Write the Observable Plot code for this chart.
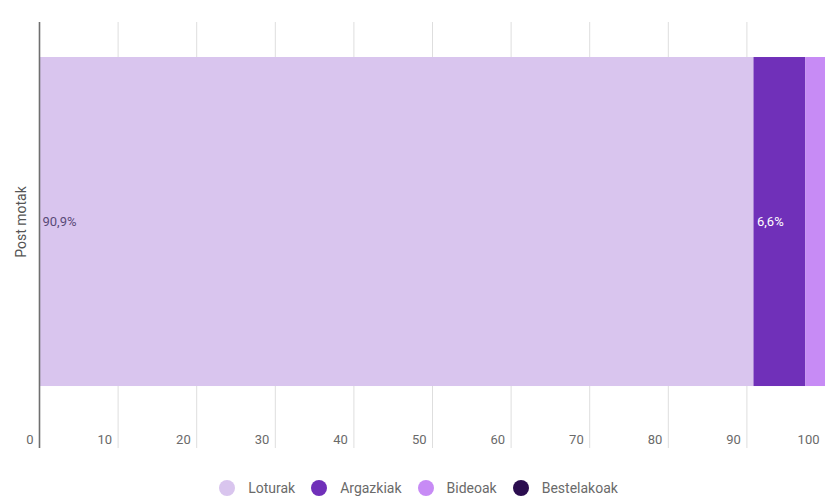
<!DOCTYPE html>
<html>
<head>
<meta charset="utf-8">
<script src="https://cdn.jsdelivr.net/npm/d3@7"></script>
<script src="https://cdn.jsdelivr.net/npm/@observablehq/plot@0.6"></script>
<style>
  html, body { margin: 0; padding: 0; background: #fff; }
  #chart { width: 829px; height: 470px; }
  .legend {
    display: flex; justify-content: center; align-items: center;
    height: 30px; padding-top: 5px; box-sizing: border-box;
    font-family: Roboto, sans-serif; font-size: 14px; color: #6a6a6a;
    padding-left: 8px;
  }
  .legend .item { display: flex; align-items: center; margin: 0 8px; }
  .legend .dot { width: 16px; height: 16px; border-radius: 50%; margin-right: 13px; }
</style>
</head>
<body>
<div id="chart"></div>
<script>
// Post types and their share of all posts (%)
const category = "Post motak";
const types = ["Loturak", "Argazkiak", "Bideoak", "Bestelakoak"];
const shares = [90.9, 6.6, 2.5, 0];
const colors = ["#d9c5ee", "#7030b9", "#c78bf5", "#2b0d4f"];
const labelColors = ["#5a4a78", "#ffffff", "#ffffff", "#ffffff"];

// x axis ticks
const tickValues = [0, 10, 20, 30, 40, 50, 60, 70, 80, 90, 100];
const tickLabels = ["0", "10", "20", "30", "40", "50", "60", "70", "80", "90", "100"];
const gridValues = [10, 20, 30, 40, 50, 60, 70, 80, 90];

const rows = types.map((t, i) => ({ kind: category, type: t, value: shares[i], labelColor: labelColors[i] }));
const fmt = v => v.toFixed(1).replace(".", ",") + "%";

const chart = Plot.plot({
  width: 829,
  height: 470,
  marginLeft: 39,
  marginRight: 4,
  marginTop: 22,
  marginBottom: 22,
  style: { fontFamily: "Roboto, sans-serif", background: "#fff" },
  x: { domain: [0, 100], axis: null },
  y: { domain: [category], axis: null, paddingInner: 0, paddingOuter: 0.1474, align: 0.361, round: false },
  color: { domain: types, range: colors },
  marks: [
    Plot.ruleX(gridValues, { stroke: "#dedede", strokeWidth: 1 }),
    Plot.barX(rows, Plot.stackX({ x: "value", y: "kind", fill: "type", order: types })),
    Plot.text(rows.filter(d => d.value >= 5), Plot.stackX1({
      x: "value", y: "kind", z: "type", order: types,
      text: d => fmt(d.value), fill: "labelColor",
      textAnchor: "start", dx: 3, fontSize: 13
    })),
    Plot.ruleX([0], { stroke: "#6f6f6f", strokeWidth: 1.6 }),
    Plot.text(tickValues, {
      x: d => d, text: (d, i) => tickLabels[i], frameAnchor: "bottom",
      textAnchor: "end", dx: -6, dy: -5, fontSize: 13, fill: "#6a6a6a"
    }),
    Plot.text([category], {
      y: d => d, text: d => d, frameAnchor: "left", textAnchor: "middle", rotate: -90,
      dx: -18, fontSize: 14, fill: "#555"
    })
  ]
});
document.getElementById("chart").appendChild(chart);

// Legend below the chart
const legend = document.createElement("div");
legend.className = "legend";
types.forEach((t, i) => {
  const item = document.createElement("div");
  item.className = "item";
  const dot = document.createElement("span");
  dot.className = "dot";
  dot.style.background = colors[i];
  const label = document.createElement("span");
  label.textContent = t;
  item.appendChild(dot);
  item.appendChild(label);
  legend.appendChild(item);
});
document.body.appendChild(legend);
</script>
</body>
</html>
